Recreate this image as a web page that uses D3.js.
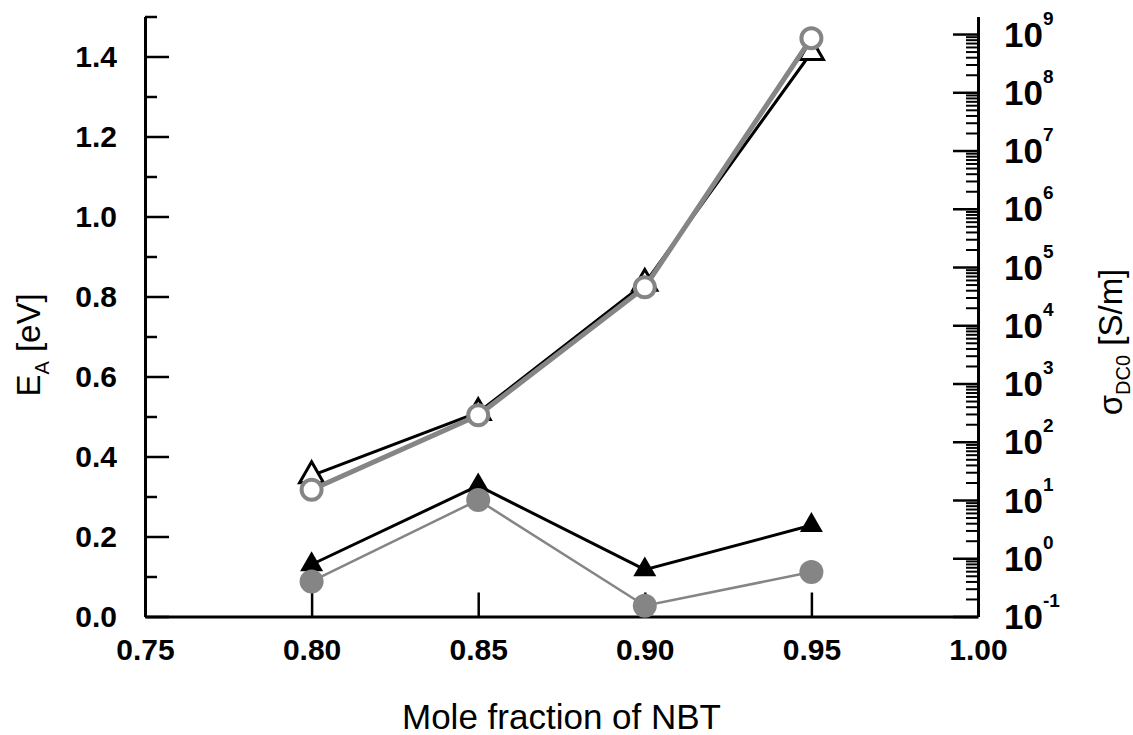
<!DOCTYPE html>
<html>
<head>
<meta charset="utf-8">
<script src="https://cdn.jsdelivr.net/npm/d3@7"></script>
<style>
    body { margin: 0; background: #fff; }
    svg { display: block; font-family: "Liberation Sans", Arial, sans-serif; }
    .axis path, .axis line { stroke: #000; }
    .axis text { font-weight: bold; fill: #000; }
</style>
</head>
<body>
<div id="chart"></div>
<script>
// values
var moleFraction = [0.80, 0.85, 0.90, 0.95];

// activation energy, eV (black triangles, left axis)
var eaOpen   = [0.352, 0.510, 0.833, 1.410];
var eaFilled = [0.130, 0.327, 0.117, 0.228];

// sigma DC0, S/m (grey circles, right axis)
var sigmaOpen   = [15, 285, 45000, 8.5e8];
var sigmaFilled = [0.40, 10, 0.153, 0.58];

var xTicks      = [0.75, 0.80, 0.85, 0.90, 0.95, 1.00];
var eaTicks     = [0.0, 0.2, 0.4, 0.6, 0.8, 1.0, 1.2, 1.4];
var eaMinor     = [0.1, 0.3, 0.5, 0.7, 0.9, 1.1, 1.3, 1.5];
var sigmaPowers = [-1, 0, 1, 2, 3, 4, 5, 6, 7, 8, 9];

var width = 1133, height = 735;
var margin = {top: 16.5, right: 155, bottom: 118.5, left: 145};
var grey = "#858585";

var svg = d3.select("#chart").append("svg")
    .attr("width", width)
    .attr("height", height);

var x = d3.scaleLinear().domain([0.75, 1.0]).range([margin.left, width - margin.right]);
var yL = d3.scaleLinear().domain([0, 1.5]).range([height - margin.bottom, margin.top]);
var yR = d3.scaleLog().domain([0.1, 2e9]).range([height - margin.bottom, margin.top]);

/**
 * axes
 */
var bottom = height - margin.bottom;
var right = width - margin.right;

// x axis
svg.append("g")
    .attr("class", "axis")
    .attr("transform", "translate(0," + bottom + ")")
    .call(d3.axisBottom(x).tickValues(xTicks).tickSize(-24).tickSizeOuter(0)
        .tickPadding(30).tickFormat(d3.format(".2f")))
    .call(function(g){
        g.select(".domain").attr("stroke-width", 3);
        g.selectAll(".tick line").attr("stroke-width", 2.5);
        g.selectAll(".tick text").attr("font-size", 30).attr("dy", "0.45em");
    });

// left axis, minor then major
svg.append("g")
    .attr("class", "axis")
    .attr("transform", "translate(" + margin.left + ",0)")
    .call(d3.axisLeft(yL).tickValues(eaMinor).tickSize(-12).tickSizeOuter(0).tickFormat(""))
    .call(function(g){
        g.selectAll(".tick line").attr("stroke-width", 2.5);
    });

svg.append("g")
    .attr("class", "axis")
    .attr("transform", "translate(" + margin.left + ",0)")
    .call(d3.axisLeft(yL).tickValues(eaTicks).tickSize(-24).tickSizeOuter(0)
        .tickPadding(28).tickFormat(d3.format(".1f")))
    .call(function(g){
        g.select(".domain").attr("stroke-width", 3);
        g.selectAll(".tick line").attr("stroke-width", 2.5);
        g.selectAll(".tick text").attr("font-size", 30);
    });

// right axis, log
var sigmaMajor = sigmaPowers.map(function(p){ return Math.pow(10, p); });
var sigmaMinorTicks = [];
sigmaPowers.forEach(function(p){
    for (var k = 2; k <= 9; k++) {
        var v = k * Math.pow(10, p);
        if (v < yR.domain()[1]) sigmaMinorTicks.push(v);
    }
});

svg.append("g")
    .attr("class", "axis")
    .attr("transform", "translate(" + right + ",0)")
    .call(d3.axisRight(yR).tickValues(sigmaMinorTicks).tickSize(-12).tickSizeOuter(0).tickFormat(""))
    .call(function(g){
        g.selectAll(".tick line").attr("stroke-width", 2);
    });

svg.append("g")
    .attr("class", "axis")
    .attr("transform", "translate(" + right + ",0)")
    .call(d3.axisRight(yR).tickValues(sigmaMajor).tickSize(-25).tickSizeOuter(0)
        .tickPadding(26).tickFormat(""))
    .call(function(g){
        g.select(".domain").attr("stroke-width", 3);
        g.selectAll(".tick line").attr("stroke-width", 2.5);
        g.selectAll(".tick text").each(function(d){
            var t = d3.select(this).attr("dy", null);
            t.append("tspan").attr("font-size", 35).attr("dy", 12).text("10");
            t.append("tspan").attr("font-size", 19).attr("dy", -22)
                .text(Math.round(Math.log10(d)));
        });
    });

/**
 * series
 */
var pts = function(ys) {
    return moleFraction.map(function(m, i){ return [m, ys[i]]; });
};

var lineL = d3.line().x(function(d){ return x(d[0]); }).y(function(d){ return yL(d[1]); });
var lineR = d3.line().x(function(d){ return x(d[0]); }).y(function(d){ return yR(d[1]); });

// triangle centred on its centroid
var tri = function(a) {
    var h = a * Math.sqrt(3) / 2;
    return "M0," + (-2 * h / 3) + "L" + (a / 2) + "," + (h / 3) + "L" + (-a / 2) + "," + (h / 3) + "Z";
};

// lower pair
svg.append("path").datum(pts(eaFilled))
    .attr("d", lineL).attr("fill", "none").attr("stroke", "#000").attr("stroke-width", 3);

svg.selectAll(".triFilled").data(pts(eaFilled)).enter().append("path")
    .attr("class", "triFilled")
    .attr("transform", function(d){ return "translate(" + x(d[0]) + "," + yL(d[1]) + ")"; })
    .attr("d", tri(23))
    .attr("fill", "#000");

svg.append("path").datum(pts(sigmaFilled))
    .attr("d", lineR).attr("fill", "none").attr("stroke", grey).attr("stroke-width", 2.5);

svg.selectAll(".dotFilled").data(pts(sigmaFilled)).enter().append("circle")
    .attr("class", "dotFilled")
    .attr("cx", function(d){ return x(d[0]); })
    .attr("cy", function(d){ return yR(d[1]); })
    .attr("r", 12)
    .attr("fill", grey);

// upper pair
svg.append("path").datum(pts(eaOpen))
    .attr("d", lineL).attr("fill", "none").attr("stroke", "#000").attr("stroke-width", 3);

svg.selectAll(".triOpen").data(pts(eaOpen)).enter().append("path")
    .attr("class", "triOpen")
    .attr("transform", function(d){ return "translate(" + x(d[0]) + "," + yL(d[1]) + ")"; })
    .attr("d", tri(24))
    .attr("fill", "#fff")
    .attr("stroke", "#000")
    .attr("stroke-width", 3);

svg.append("path").datum(pts(sigmaOpen))
    .attr("d", lineR).attr("fill", "none").attr("stroke", grey).attr("stroke-width", 5);

svg.selectAll(".dotOpen").data(pts(sigmaOpen)).enter().append("circle")
    .attr("class", "dotOpen")
    .attr("cx", function(d){ return x(d[0]); })
    .attr("cy", function(d){ return yR(d[1]); })
    .attr("r", 10)
    .attr("fill", "#fff")
    .attr("stroke", grey)
    .attr("stroke-width", 4);

/**
 * titles
 */
svg.append("text")
    .attr("x", (margin.left + right) / 2)
    .attr("y", 729)
    .attr("text-anchor", "middle")
    .attr("font-size", 35)
    .text("Mole fraction of NBT");

var leftTitle = svg.append("text")
    .attr("transform", "translate(40,345) rotate(-90)")
    .attr("text-anchor", "middle")
    .attr("font-size", 33);
leftTitle.append("tspan").text("E");
leftTitle.append("tspan").attr("font-size", 20).attr("dy", 9).text("A");
leftTitle.append("tspan").attr("dy", -9).text(" [eV]");

var rightTitle = svg.append("text")
    .attr("transform", "translate(1122,342) rotate(-90)")
    .attr("text-anchor", "middle")
    .attr("font-size", 33);
rightTitle.append("tspan").text("\u03c3");
rightTitle.append("tspan").attr("font-size", 20).attr("dy", 8).text("DC0");
rightTitle.append("tspan").attr("dy", -8).text(" [S/m]");
</script>
</body>
</html>
